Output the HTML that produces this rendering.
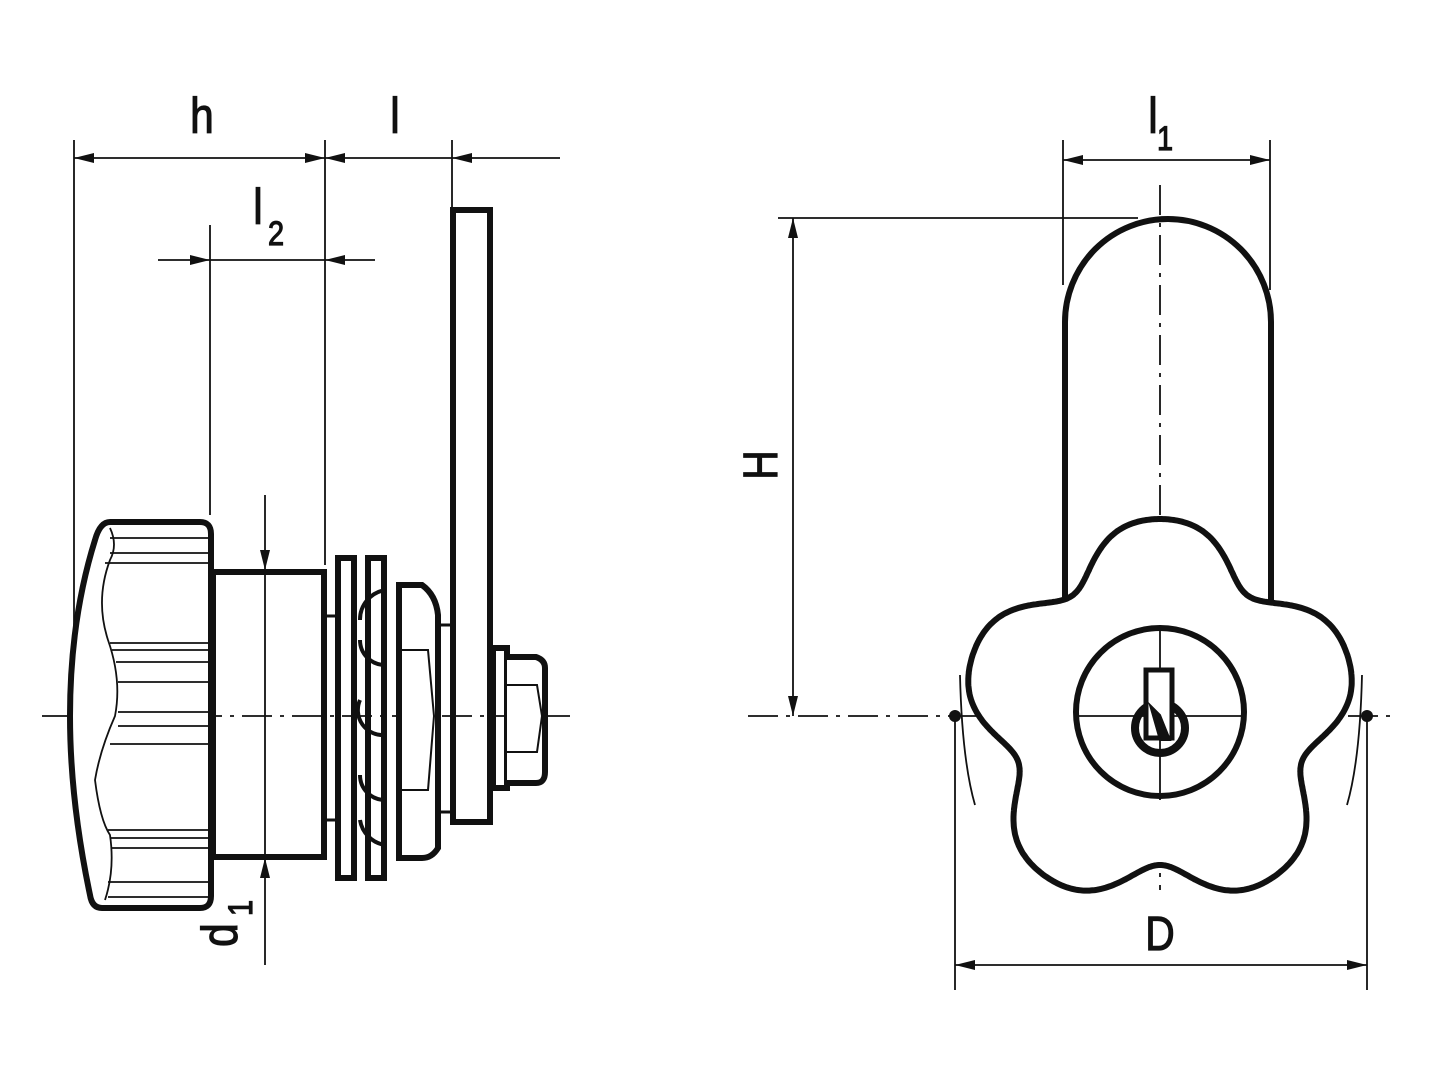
<!DOCTYPE html>
<html><head><meta charset="utf-8"><style>
html,body{margin:0;padding:0;background:#fff}
svg{display:block}
text{font-family:"Liberation Sans",sans-serif;fill:#111}
</style></head><body>
<svg id="s" width="1440" height="1080" viewBox="0 0 1440 1080" xmlns="http://www.w3.org/2000/svg">
<defs>
<marker id="a" viewBox="0 0 20 10" refX="20" refY="5" markerWidth="20" markerHeight="10" markerUnits="userSpaceOnUse" orient="auto-start-reverse"><path d="M0,0 L20,5 L0,10 z" fill="#111"/></marker>
</defs>
<g stroke="#111" fill="none">
<g stroke-width="1.8">
<line x1="74" y1="140" x2="74" y2="640"/>
<line x1="325" y1="140" x2="325" y2="565"/>
<line x1="452" y1="140" x2="452" y2="210"/>
<line x1="74" y1="158" x2="325" y2="158" marker-start="url(#a)" marker-end="url(#a)"/>
<line x1="325" y1="158" x2="452" y2="158" marker-start="url(#a)"/>
<line x1="560" y1="158" x2="452" y2="158" marker-end="url(#a)"/>
<line x1="210" y1="225" x2="210" y2="515"/>
<line x1="158" y1="260" x2="210" y2="260" marker-end="url(#a)"/>
<line x1="210" y1="260" x2="325" y2="260"/>
<line x1="375" y1="260" x2="325" y2="260" marker-end="url(#a)"/>
<line x1="265" y1="495" x2="265" y2="570" marker-end="url(#a)"/>
<line x1="265" y1="570" x2="265" y2="858"/>
<line x1="265" y1="965" x2="265" y2="858" marker-end="url(#a)"/>
<line x1="42" y1="716" x2="570" y2="716" stroke-dasharray="30,8,4,8"/>
</g>
<g stroke-width="6" stroke-linejoin="round">
<path d="M110,522 L200,522 Q211,522 211,534 L211,896 Q211,908 200,908 L102,908 Q92,908 90,895 Q70,800 70,716 Q70,620 95,540 Q100,522 110,522 Z" fill="#fff"/>
</g>
<g stroke-width="1.8">
<path d="M110,528 Q118,545 110,560 Q95,600 108,640 Q122,680 115,716 Q100,750 95,780 Q100,820 110,835 Q115,870 105,900"/>
<line x1="110" y1="538" x2="208" y2="538"/><line x1="110" y1="553" x2="208" y2="553"/>
<line x1="105" y1="563" x2="208" y2="563"/><line x1="110" y1="643" x2="208" y2="643"/>
<line x1="112" y1="650" x2="208" y2="650"/><line x1="116" y1="662" x2="208" y2="662"/>
<line x1="118" y1="682" x2="208" y2="682"/><line x1="118" y1="712" x2="208" y2="712"/>
<line x1="118" y1="726" x2="208" y2="726"/><line x1="110" y1="744" x2="208" y2="744"/>
<line x1="108" y1="830" x2="208" y2="830"/><line x1="110" y1="838" x2="208" y2="838"/>
<line x1="112" y1="848" x2="208" y2="848"/><line x1="108" y1="882" x2="208" y2="882"/>
<line x1="108" y1="897" x2="208" y2="897"/>
</g>
<g stroke-width="6">
<rect x="213" y="572" width="111" height="285" fill="none"/>
<line x1="325" y1="616" x2="336" y2="616" stroke-width="3"/>
<line x1="325" y1="820" x2="336" y2="820" stroke-width="3"/>
<rect x="338" y="558" width="16" height="320"/>
<rect x="368" y="558" width="16" height="320"/>
<path d="M385,590 A30,30 0 0 0 360,620 M360,640 A25,25 0 0 0 385,665 M360,700 A25,25 0 0 0 385,735 M360,775 A25,25 0 0 0 385,800 M385,845 A30,30 0 0 1 360,820" stroke-width="4"/>
<path d="M399,585 L422,585 Q436,595 438,615 L438,848 Q432,858 422,858 L399,858 Z" fill="#fff"/>
<path d="M399,650 L428,650 L434,716 L428,790 L399,790" stroke-width="2"/>
<line x1="438" y1="625" x2="452" y2="625" stroke-width="3"/>
<line x1="438" y1="812" x2="452" y2="812" stroke-width="3"/>
<rect x="453" y="210" width="37" height="612"/>
<rect x="493" y="648" width="14" height="140"/>
<path d="M507,657 L536,657 Q545,660 545,668 L545,772 Q545,783 536,783 L507,783" fill="#fff"/>
<path d="M507,685 L537,685 L542,716 L537,752 L507,752" stroke-width="2"/>
</g>
<g stroke-width="1.8">
<line x1="1063" y1="140" x2="1063" y2="285"/>
<line x1="1270" y1="140" x2="1270" y2="290"/>
<line x1="1063" y1="160" x2="1270" y2="160" marker-start="url(#a)" marker-end="url(#a)"/>
<line x1="778" y1="218" x2="1138" y2="218"/>
<line x1="793" y1="218" x2="793" y2="716" marker-start="url(#a)" marker-end="url(#a)"/>
<line x1="1160" y1="185" x2="1160" y2="890" stroke-dasharray="30,8,4,8"/>
<line x1="748" y1="716" x2="1392" y2="716" stroke-dasharray="30,8,4,8"/>
<line x1="955" y1="716" x2="955" y2="990"/>
<line x1="1367" y1="716" x2="1367" y2="990"/>
<line x1="955" y1="965" x2="1367" y2="965" marker-start="url(#a)" marker-end="url(#a)"/>
<path d="M960,675 Q962,760 975,805"/>
<path d="M1362,675 Q1360,760 1347,805"/>
</g>
<path d="M1065,600 L1065,322 A103,103 0 0 1 1271,322 L1271,610" stroke-width="6"/>
<path id="star" d="" stroke-width="6" fill="none"/>
<line x1="1160" y1="630" x2="1160" y2="800" stroke-width="1.8"/>
<line x1="1076" y1="716" x2="1244" y2="716" stroke-width="1.8"/>
<circle cx="1160" cy="712" r="84" stroke-width="6"/>
<circle cx="1160" cy="728" r="25" stroke-width="8"/>
<rect x="1146" y="670" width="26" height="68" stroke-width="5" fill="#fff"/>
<path d="M1150,705 L1160,740 L1170,740 L1160,715 Z" fill="#111" stroke-width="2"/>
</g>
<circle cx="955" cy="716" r="6" fill="#111"/>
<circle cx="1367" cy="716" r="6" fill="#111"/>
<g stroke="#111" stroke-width="1.2">
<text transform="translate(202,133) scale(0.85,1)" font-size="50" text-anchor="middle">h</text>
<text transform="translate(395,133) scale(0.85,1)" font-size="50" text-anchor="middle">l</text>
<text transform="translate(258,224) scale(0.85,1)" font-size="50" text-anchor="middle">l</text><text transform="translate(276,245) scale(0.85,1)" font-size="34" text-anchor="middle">2</text>
<text transform="translate(1153,133) scale(0.85,1)" font-size="50" text-anchor="middle">l</text><text transform="translate(1165,150) scale(0.85,1)" font-size="34" text-anchor="middle">1</text>
<text transform="translate(1160,950) scale(0.85,1)" font-size="48" text-anchor="middle">D</text>
<text transform="translate(777,465) rotate(-90) scale(0.85,1)" font-size="48" text-anchor="middle">H</text>
<text transform="translate(237,935) rotate(-90) scale(0.85,1)" font-size="50" text-anchor="middle">d</text>
<text transform="translate(252,908) rotate(-90) scale(0.85,1)" font-size="34" text-anchor="middle">1</text>
</g>
</svg>
<script>
(function(){var cx=1160,cy=716,d="";for(var i=0;i<=720;i++){var t=i*Math.PI/360;var r=177+24*Math.cos(5*t)-4*Math.cos(10*t);var x=cx+r*Math.sin(t),y=cy-r*Math.cos(t);d+=(i?"L":"M")+x.toFixed(1)+","+y.toFixed(1);}
var p=document.getElementById("star");p.setAttribute("d",d+"Z");p.setAttribute("fill","#fff");})();
</script>
</body></html>
